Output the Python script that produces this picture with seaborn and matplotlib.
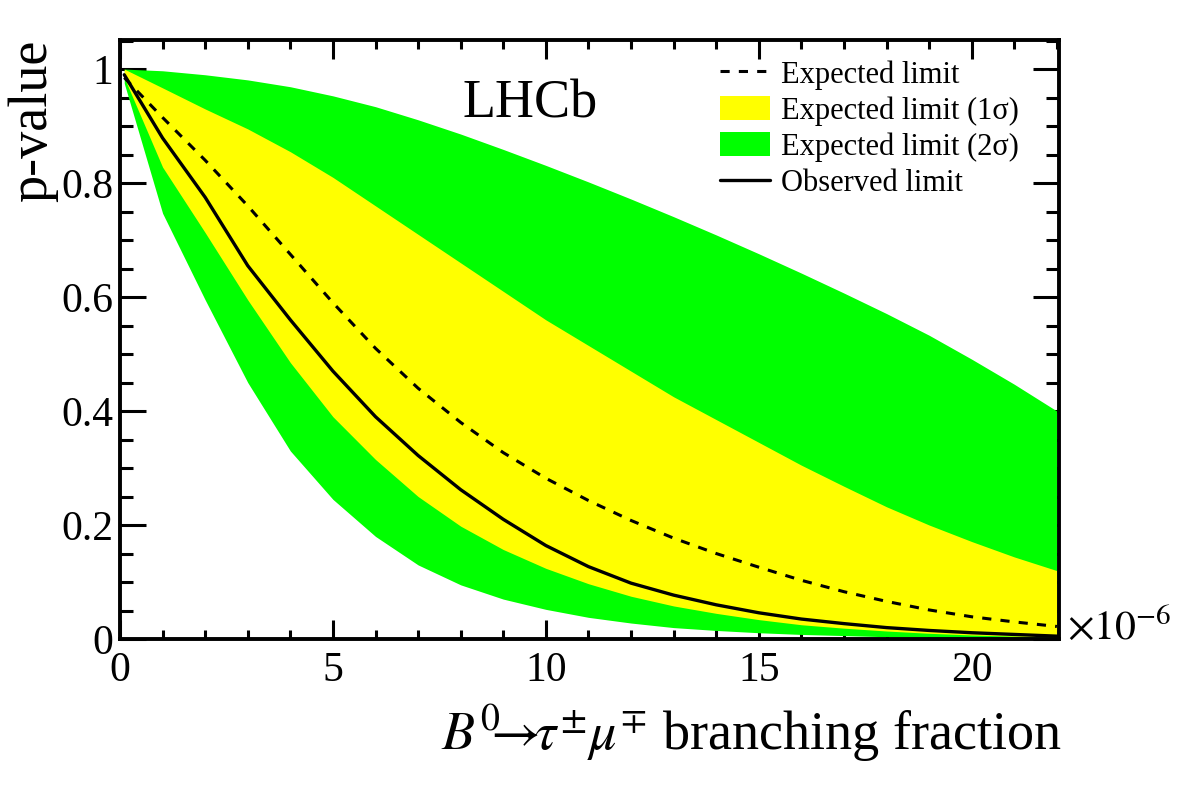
import numpy as np
import pandas as pd
import seaborn as sns
import matplotlib.pyplot as plt
from matplotlib.lines import Line2D
from matplotlib.patches import Patch
from matplotlib.ticker import MultipleLocator

# branching fraction scan points (x 1e-6)
bf = [0.1, 1, 2, 3, 4, 5, 6, 7, 8, 9, 10, 11, 12, 13, 14, 15, 16, 17, 18, 19, 20, 21, 22]

# p-values
observed = [0.99, 0.879, 0.775, 0.655, 0.56, 0.47, 0.39, 0.322, 0.262, 0.21, 0.164, 0.127,
            0.098, 0.077, 0.06, 0.046, 0.035, 0.027, 0.02, 0.015, 0.011, 0.008, 0.005]
expected = [0.985, 0.915, 0.84, 0.76, 0.675, 0.59, 0.51, 0.44, 0.38, 0.327, 0.282, 0.243,
            0.208, 0.177, 0.15, 0.126, 0.103, 0.083, 0.066, 0.051, 0.039, 0.03, 0.022]
band1_hi = [1.0, 0.967, 0.93, 0.895, 0.855, 0.81, 0.76, 0.71, 0.66, 0.61, 0.56, 0.515,
            0.47, 0.425, 0.385, 0.345, 0.305, 0.268, 0.232, 0.2, 0.171, 0.144, 0.12]
band1_lo = [0.985, 0.828, 0.713, 0.595, 0.485, 0.39, 0.315, 0.25, 0.198, 0.157, 0.124, 0.097,
            0.075, 0.058, 0.045, 0.034, 0.025, 0.019, 0.014, 0.01, 0.007, 0.005, 0.004]
band2_hi = [1.0, 0.997, 0.99, 0.981, 0.969, 0.953, 0.934, 0.911, 0.886, 0.859, 0.831, 0.802,
            0.772, 0.741, 0.709, 0.676, 0.642, 0.607, 0.571, 0.533, 0.491, 0.447, 0.40]
band2_lo = [0.975, 0.747, 0.595, 0.45, 0.33, 0.245, 0.18, 0.13, 0.095, 0.07, 0.052, 0.038,
            0.028, 0.02, 0.015, 0.011, 0.008, 0.006, 0.004, 0.003, 0.002, 0.0015, 0.001]

df = pd.DataFrame({"bf": bf, "observed": observed, "expected": expected,
                   "b1_hi": band1_hi, "b1_lo": band1_lo,
                   "b2_hi": band2_hi, "b2_lo": band2_lo})

sns.set_style("ticks")
plt.rcParams["font.family"] = ["Liberation Serif", "DejaVu Serif"]
plt.rcParams["mathtext.fontset"] = "stix"
plt.rcParams["text.color"] = "black"
plt.rcParams["axes.labelcolor"] = "black"
plt.rcParams["xtick.color"] = "black"
plt.rcParams["ytick.color"] = "black"
plt.rcParams["axes.edgecolor"] = "black"

fig = plt.figure(figsize=(11.82, 8), dpi=100)
ax = fig.add_axes([120 / 1182, 1 - 639 / 800, 939 / 1182, 599 / 800])

GREEN = "#00ff00"
YELLOW = "#ffff00"

ax.fill_between(df["bf"], df["b2_lo"], df["b2_hi"], color=GREEN, lw=0, zorder=1)
ax.fill_between(df["bf"], df["b1_lo"], df["b1_hi"], color=YELLOW, lw=0, zorder=2)
sns.lineplot(data=df, x="bf", y="expected", ax=ax, color="black", lw=2.2,
             linestyle=(0, (3, 3)), zorder=3)
sns.lineplot(data=df, x="bf", y="observed", ax=ax, color="black", lw=2.4, zorder=4)

ax.set_xlim(0, 22.05)
ax.set_ylim(0, 1.051)

# ROOT-like frame and ticks
for s in ax.spines.values():
    s.set_linewidth(2.8)
    s.set_color("black")
    s.set_zorder(10)
ax.xaxis.set_major_locator(MultipleLocator(5))
ax.xaxis.set_minor_locator(MultipleLocator(1))
ax.yaxis.set_major_locator(MultipleLocator(0.2))
ax.yaxis.set_minor_locator(MultipleLocator(0.05))
ax.tick_params(axis="both", which="both", direction="in", top=True, right=True,
               width=2.2, labelsize=30, colors="black")
ax.tick_params(axis="x", which="major", length=13.5, pad=9)
ax.tick_params(axis="x", which="minor", length=6.5)
ax.tick_params(axis="y", which="major", length=18.5, pad=5)
ax.tick_params(axis="y", which="minor", length=9.5)
ax.set_xticks([0, 5, 10, 15, 20])
ax.set_xticklabels(["0", "5", "10", "15", "20"])
ax.set_yticks([0, 0.2, 0.4, 0.6, 0.8, 1.0])
ax.set_yticklabels(["0", "0.2", "0.4", "0.6", "0.8", "1"])

ax.set_xlabel(r"$B^{0}\!\!\!\rightarrow\!\!\tau^{\pm}\mu^{\mp}$ branching fraction",
              fontsize=39, loc="right", color="black")
ax.xaxis.set_label_coords((1062 - 120) / 939, -0.107)
ax.set_ylabel("")
fig.text(33 / 1182, 1 - 40 / 800, "p-value", rotation=90, ha="center", va="top",
         fontsize=39, color="black")

ax.text(1.008, 0.0, r"$\times10^{-6}$", transform=ax.transAxes, fontsize=30,
        ha="left", va="baseline", color="black")
ax.text(0.437, 0.87, "LHCb", transform=ax.transAxes, fontsize=39,
        ha="center", va="baseline", color="black")

handles = [
    Line2D([], [], color="black", lw=2.2, linestyle=(0, (3, 3))),
    Patch(facecolor=YELLOW, edgecolor="none"),
    Patch(facecolor=GREEN, edgecolor="none"),
    Line2D([], [], color="black", lw=2.4),
]
labels = ["Expected limit", "Expected limit (1σ)", "Expected limit (2σ)", "Observed limit"]
leg = ax.legend(handles, labels, loc="upper left", bbox_to_anchor=(720 / 1182, 1 - 60 / 800),
                bbox_transform=fig.transFigure, frameon=False, fontsize=22, borderpad=0,
                borderaxespad=0, handlelength=1.65, handleheight=0.82, handletextpad=0.35,
                labelspacing=0.22)
for t in leg.get_texts():
    t.set_color("black")

fig.savefig("out.png", dpi=100)
